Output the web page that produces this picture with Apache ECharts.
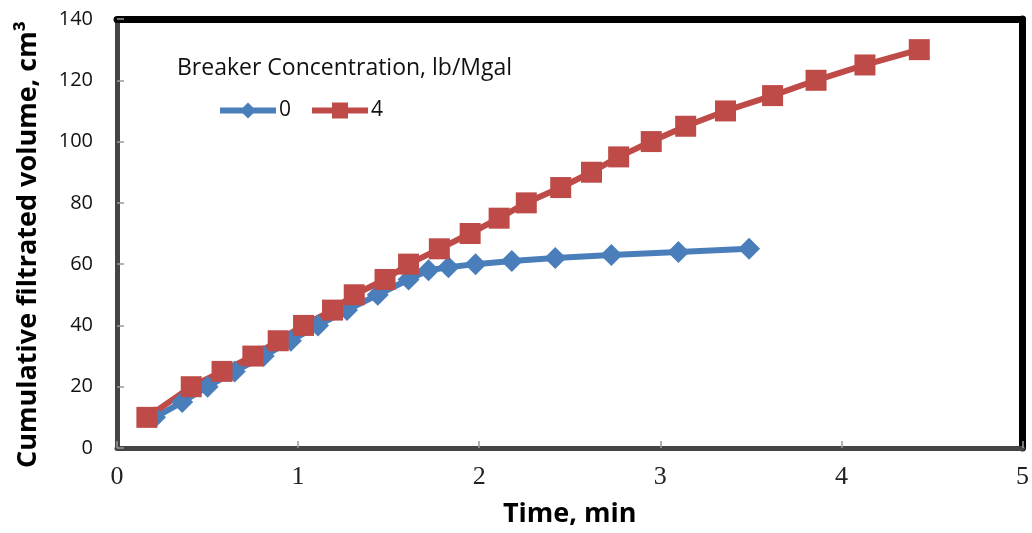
<!DOCTYPE html>
<html><head><meta charset="utf-8">
<script src="https://cdn.jsdelivr.net/npm/echarts@6/dist/echarts.min.js"></script>
<style>html,body{margin:0;padding:0;background:#fff;overflow:hidden;width:100%;height:100%}#c{width:100vw;height:100vh}</style>
</head><body><div id="c"></div>
<script>
var t0 = [0.21,0.36,0.50,0.65,0.81,0.96,1.11,1.27,1.44,1.61,1.72,1.83,1.98,2.18,2.42,2.73,3.10,3.49];
var v0 = [10,15,20,25,30,35,40,45,50,55,58,59,60,61,62,63,64,65];
var t4 = [0.165,0.41,0.58,0.75,0.89,1.03,1.19,1.31,1.48,1.61,1.78,1.95,2.11,2.26,2.45,2.62,2.77,2.95,3.14,3.36,3.62,3.86,4.13,4.43];
var v4 = [10,20,25,30,35,40,45,50,55,60,65,70,75,80,85,90,95,100,105,110,115,120,125,130];
var seriesNames = ['0','4'];
var legendTitle = 'Breaker Concentration, lb/Mgal';
var xTitle = 'Time, min';
var yTitle = 'Cumulative filtrated volume, cm\u00B3';

function pairs(a,b){return a.map(function(x,i){return [x,b[i]];});}
var frameAxis = {show:true,axisLine:{onZero:false,lineStyle:{color:'#000',width:7}},axisTick:{show:false},axisLabel:{show:false},splitLine:{show:false}};
var chart = echarts.init(document.getElementById('c'));
chart.setOption({
  animation:false,
  backgroundColor:'#fff',
  grid:{left:117,right:6,top:19,bottom:81,show:false},
  title:{text:legendTitle,left:172,top:52,textStyle:{fontFamily:'Open Sans',fontWeight:'normal',fontSize:23,color:'#111'}},
  legend:{left:212,top:95,itemWidth:56,itemHeight:20,itemGap:18,
    lineStyle:{width:6},
    textStyle:{fontFamily:'Open Sans',fontSize:21,color:'#111',padding:[0,0,0,-2]},
    data:seriesNames},
  xAxis:[{type:'value',min:0,max:5,interval:1,
    name:xTitle,nameLocation:'middle',nameGap:53,
    nameTextStyle:{fontFamily:'Open Sans',fontWeight:'bold',fontSize:27,color:'#000'},
    axisLine:{onZero:false,lineStyle:{color:'#444',width:5}},
    axisTick:{inside:true,length:7,lineStyle:{color:'#999',width:1.5}},
    axisLabel:{fontFamily:'Liberation Serif',fontSize:26,color:'#222',margin:16},
    splitLine:{show:false}},
    Object.assign({type:'value',min:0,max:5,position:'top'},frameAxis)],
  yAxis:[{type:'value',min:0,max:140,interval:20,
    name:yTitle,nameLocation:'middle',nameGap:75,
    nameTextStyle:{fontFamily:'Open Sans',fontWeight:'bold',fontSize:27,color:'#000',padding:[0,22,0,0]},
    axisLine:{onZero:false,lineStyle:{color:'#444',width:5}},
    axisTick:{inside:true,length:7,lineStyle:{color:'#999',width:1.5}},
    axisLabel:{fontFamily:'Open Sans',fontSize:20,color:'#111',margin:24},
    splitLine:{show:false}},
    Object.assign({type:'value',min:0,max:140,position:'right'},frameAxis)],
  series:[
    {name:seriesNames[0],type:'line',data:pairs(t0,v0),symbol:'diamond',symbolSize:22,
     lineStyle:{color:'#4a7ebb',width:6},itemStyle:{color:'#4a7ebb'}},
    {name:seriesNames[1],type:'line',data:pairs(t4,v4),symbol:'rect',symbolSize:21,
     lineStyle:{color:'#be4b48',width:6},itemStyle:{color:'#be4b48'}}
  ]
});
</script></body></html>
